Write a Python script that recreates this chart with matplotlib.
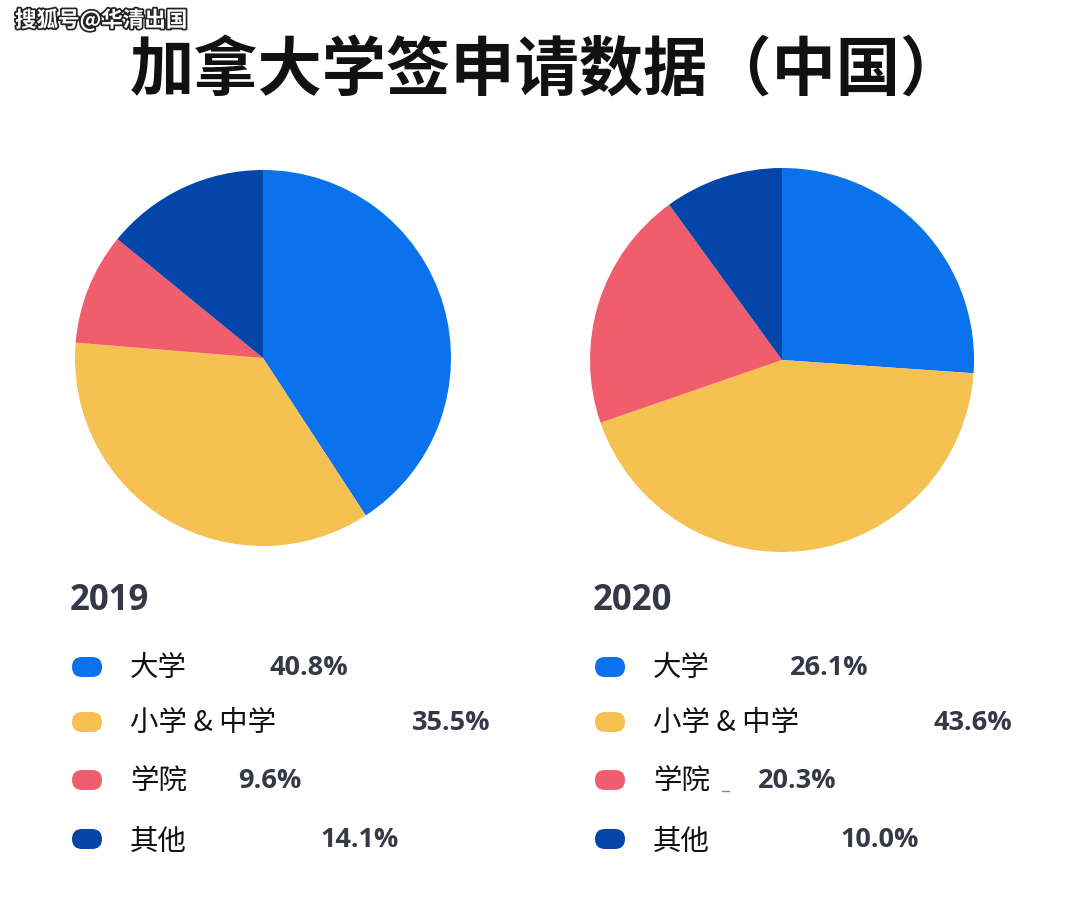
import matplotlib
matplotlib.use("Agg")
import matplotlib.pyplot as plt
from matplotlib.patches import FancyBboxPatch
import matplotlib.patheffects as pe

plt.rcParams['font.family'] = ['Noto Sans CJK SC', 'DejaVu Sans']

# data
categories = ['大学', '小学 & 中学', '学院', '其他']
years = ['2019', '2020']
share_2019 = [40.8, 35.5, 9.6, 14.1]
share_2020 = [26.1, 43.6, 20.3, 10.0]
colors = ['#0a72ec', '#f5c151', '#f05e6e', '#0445a9']
title = '加拿大学签申请数据（中国）'

W, H = 1080, 920
fig = plt.figure(figsize=(W / 100, H / 100), dpi=100)

def pie_axes(cx, cy, r):
    return fig.add_axes([(cx - r) / W, (H - cy - r) / H, 2 * r / W, 2 * r / H])

# pies (centre x, centre y, radius in px)
for vals, (cx, cy, r) in zip([share_2019, share_2020], [(263, 359, 188), (782, 361, 192)]):
    ax = pie_axes(cx, cy, r)
    ax.pie(vals, colors=colors, startangle=90, counterclock=False,
           wedgeprops=dict(linewidth=0))
    ax.set_xlim(-1, 1)
    ax.set_ylim(-1, 1)
    ax.set_aspect('equal')
    ax.axis('off')

# overlay for text and legend, pixel coordinates
ov = fig.add_axes([0, 0, 1, 1], zorder=5)
ov.set_xlim(0, W)
ov.set_ylim(H, 0)
ov.axis('off')

ov.text(547, 72, title, fontsize=46.3, fontweight='bold', ha='center', va='center',
        color='#111111')

wm = ov.text(15, 21, '搜狐号@华清出国', fontsize=15.5, fontweight='bold', ha='left',
             va='center', color='white')
wm.set_path_effects([pe.withStroke(linewidth=2.5, foreground='#222222')])

text_col = '#363848'
row_y = [668, 723, 781, 840]
label_y = [668, 723, 782, 842]
pct_x = {'2019': [270, 412, 238, 320], '2020': [790, 933, 758, 840]}

for yr, vals, x0 in zip(years, [share_2019, share_2020], [70, 593]):
    ov.text(x0, 601, yr, fontsize=25, fontweight='bold', family=['Open Sans', 'DejaVu Sans'],
            ha='left', va='center', color=text_col)
    for i, cat in enumerate(categories):
        pill = FancyBboxPatch((x0 + 2, row_y[i] - 10), 30, 20,
                              boxstyle='round,pad=0,rounding_size=10',
                              fc=colors[i], ec='none')
        ov.add_patch(pill)
        ov.text(x0 + 60, label_y[i], cat, fontsize=20.5, ha='left', va='center', color='#111111')
        ov.text(pct_x[yr][i], row_y[i], f'{vals[i]:.1f}%', fontsize=19.5, fontweight='bold',
                family=['Open Sans', 'DejaVu Sans'], ha='left', va='center', color=text_col)

# small stray mark next to 学院 in the 2020 legend
ov.plot([722, 729], [792, 792], color='#888888', lw=1)

fig.savefig('out.png', dpi=100, facecolor='white')
